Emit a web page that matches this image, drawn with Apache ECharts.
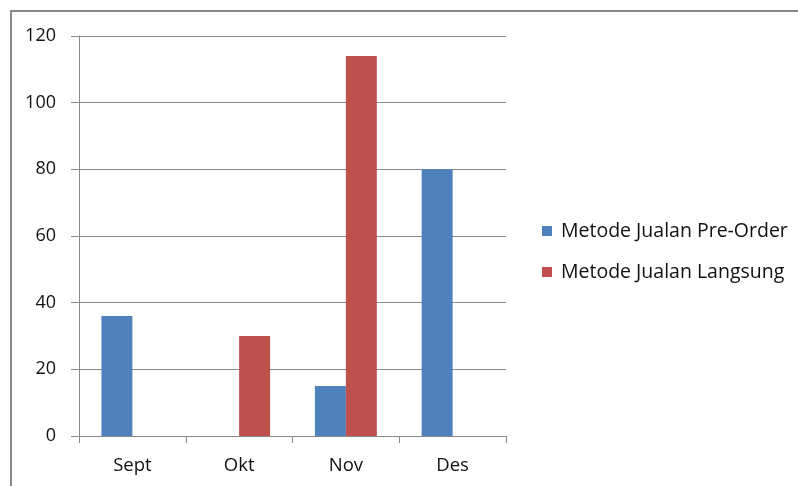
<!DOCTYPE html>
<html><head><meta charset="utf-8">
<script src="https://cdn.jsdelivr.net/npm/echarts@6/dist/echarts.min.js"></script>
<style>html,body{margin:0;padding:0;background:#fff}#c{width:798px;height:486px;position:relative}
#b{position:absolute;left:10px;top:10px;width:800px;height:500px;border:2px solid #888;box-sizing:border-box}</style>
</head><body><div id="c"></div><div id="b"></div>
<script>
const categories = ['Sept', 'Okt', 'Nov', 'Des'];
const preOrder = [36, null, 15, 80];
const langsung = [null, 30, 114, null];
const seriesNames = ['Metode Jualan Pre-Order', 'Metode Jualan Langsung'];
const chart = echarts.init(document.getElementById('c'));
const font = 'Open Sans, Liberation Sans, sans-serif';
chart.setOption({
  animation: false,
  grid: {left: 79, right: 292, top: 36, bottom: 50},
  legend: {
    orient: 'vertical', left: 542, top: 221, padding: 0, itemWidth: 10, itemHeight: 10, itemGap: 21,
    icon: 'rect', textStyle: {fontFamily: font, fontSize: 19.5, color: '#111', padding: [0, 0, 0, 4]},
    data: seriesNames
  },
  xAxis: {
    type: 'category', data: categories,
    axisLine: {lineStyle: {color: '#888', width: 1}},
    axisTick: {show: true, length: 7, lineStyle: {color: '#888'}},
    axisLabel: {fontFamily: font, fontSize: 18.5, color: '#111', margin: 20}
  },
  yAxis: {
    type: 'value', min: 0, max: 120, interval: 20,
    axisLine: {show: true, lineStyle: {color: '#888'}},
    axisTick: {show: true, length: 8, inside: false, lineStyle: {color: '#888'}},
    splitLine: {lineStyle: {color: '#888'}},
    axisLabel: {fontFamily: font, fontSize: 18, color: '#111', margin: 23}
  },
  series: [
    {name: seriesNames[0], type: 'bar', data: preOrder, barGap: '0%', barCategoryGap: '42%', itemStyle: {color: '#4F81BD'}},
    {name: seriesNames[1], type: 'bar', data: langsung, barGap: '0%', barCategoryGap: '42%', itemStyle: {color: '#C0504D'}}
  ]
});
</script></body></html>
